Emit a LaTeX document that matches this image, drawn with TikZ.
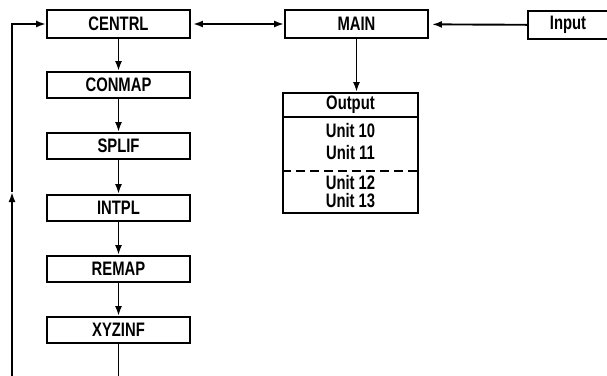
\documentclass[tikz,border=0pt]{standalone}
\usepackage{fontspec}
\setmainfont[FakeStretch=0.76]{Liberation Sans}
\usetikzlibrary{arrows.meta}
\begin{document}
\begin{tikzpicture}[x=1pt,y=-1pt,
  line width=1.9pt,
  every node/.style={font=\fontsize{19.5}{21}\selectfont\bfseries},
  pbox/.style={draw,line width=1.9pt,minimum width=143pt,minimum height=26pt,inner sep=0pt},
  arr/.style={-{Latex[length=10pt,width=7pt]}},
  darr/.style={{Latex[length=10pt,width=7pt]}-{Latex[length=10pt,width=7pt]}}]
\useasboundingbox (0,0) rectangle (607,375);
\clip (0,0) rectangle (607,375);
% left column
\node[pbox,minimum height=28pt] (centrl) at (118.5,24) {CENTRL};
\node[pbox] (conmap) at (118.5,85) {CONMAP};
\node[pbox] (splif) at (118.5,146) {SPLIF};
\node[pbox] (intpl) at (118.5,208) {INTPL};
\node[pbox] (remap) at (118.5,269) {REMAP};
\node[pbox] (xyzinf) at (118.5,330) {XYZINF};
% main & input
\node[pbox,minimum height=28pt] (main) at (356.5,24) {MAIN};
\node[pbox,minimum width=80pt,minimum height=28pt] (input) at (568,25) {Input};
% output box
\node[draw,line width=1.9pt,minimum width=135pt,minimum height=120pt,inner sep=0pt] (out) at (350.5,153) {};
\draw ([yshift=-25pt]out.north west) coordinate (hl) -- ([yshift=-25pt]out.north east) coordinate (hr);
\draw[dash pattern=on 9pt off 5pt,line width=1.6pt] ([yshift=-79pt]out.north west) coordinate (dl) -- ([yshift=-79pt]out.north east) coordinate (dr);
\node (outt) at (350.5,105) {Output};
\node (u10) at (350.5,131) {Unit 10};
\node (u11) at (350.5,153) {Unit 11};
\node (u12) at (350.5,183) {Unit 12};
\node (u13) at (350.5,201) {Unit 13};
% connectors
\draw[arr] (centrl) -- (conmap);
\draw[arr] (conmap) -- (splif);
\draw[arr] (splif) -- (intpl);
\draw[arr] (intpl) -- (remap);
\draw[arr] (remap) -- (xyzinf);
\draw[darr,shorten <=2pt] (centrl) -- (main);
\draw[arr,shorten >=3pt] (input) -- (main);
\draw[arr] (main.south) -- (main.south |- out.north);
% return loop (cut off at the bottom)
\coordinate (bx) at (118.5,380);
\coordinate (bl) at (12,380);
\coordinate (mid) at (12,192);
\draw (xyzinf) -- (bx);
\draw[arr] (bl) -- (mid);
\draw[arr] (mid) |- (centrl.west);
\end{tikzpicture}
\end{document}
